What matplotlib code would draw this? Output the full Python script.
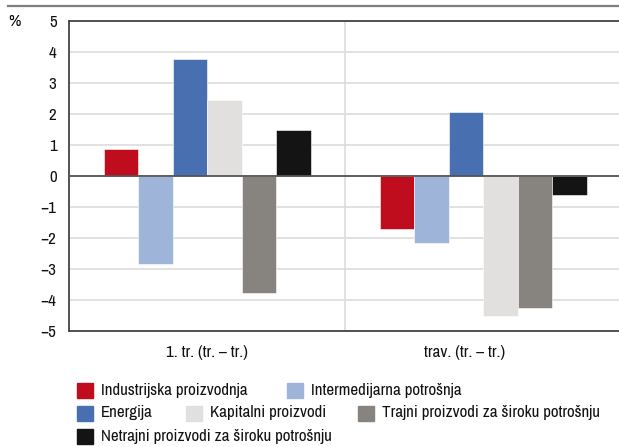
import matplotlib
matplotlib.use('Agg')
import matplotlib.pyplot as plt
from matplotlib.patches import Rectangle
from matplotlib.lines import Line2D
import numpy as np

# podaci
groups = ['1. tr. (tr. – tr.)', 'trav. (tr. – tr.)']
series = ['Industrijska proizvodnja', 'Intermedijarna potrošnja', 'Energija',
          'Kapitalni proizvodi', 'Trajni proizvodi za široku potrošnju',
          'Netrajni proizvodi za široku potrošnju']
q1_values = [0.88, -2.84, 3.77, 2.44, -3.78, 1.49]
apr_values = [-1.72, -2.17, 2.07, -4.5, -4.25, -0.61]
colors = ['#C00D1E', '#9FB4D9', '#4870B0', '#E1E0DF', '#878480', '#141414']
yticks = [-5, -4, -3, -2, -1, 0, 1, 2, 3, 4, 5]

plt.rcParams['font.family'] = ['Archivo Narrow', 'Liberation Sans', 'DejaVu Sans']
fs = 12.2

W, H = 619, 447
fig = plt.figure(figsize=(W / 100, H / 100), dpi=100)
ax = fig.add_axes([69 / W, (H - 331) / H, 552 / W, 310 / H])

values = np.array([q1_values, apr_values])
width = 0.125
x = np.arange(len(groups))
for i, name in enumerate(series):
    ax.bar(x + (i - 2.5) * width, values[:, i], width, color=colors[i],
           edgecolor='white', linewidth=0.4, label=name, zorder=3)

ax.set_xlim(-0.5, 1.5)
ax.set_ylim(-5, 5)
ax.set_yticks(yticks)
ax.yaxis.grid(True, color='#DCDCDC', linewidth=1.2, zorder=0)
ax.axhline(0, color='#555555', linewidth=1.3, zorder=4)
ax.axvline(0.5, color='#DCDCDC', linewidth=1.2, zorder=0)
# drugi natpis je malo pomaknut ulijevo kao u originalu
ax.set_xticks([0, 0.935])
ax.set_xticklabels(groups)
ax.tick_params(axis='both', length=0, labelsize=fs, colors='#111111')
ax.tick_params(axis='y', pad=9)
ax.tick_params(axis='x', pad=10)

for s in ['left', 'top', 'bottom']:
    ax.spines[s].set_color('#444444')
    ax.spines[s].set_linewidth(1.3)
ax.spines['right'].set_visible(False)

fig.text(8 / W, 1 - 21 / H, '%', fontsize=fs, va='center', ha='left')
fig.add_artist(Line2D([8 / W, 1], [1 - 6 / H, 1 - 6 / H], color='#7F7F7F',
                      linewidth=1.6, transform=fig.transFigure))

# legenda
legend_pos = [(390, 77), (390, 287), (413, 77), (413, 185.5), (413, 358), (436, 77)]
for i, name in enumerate(series):
    yc, px = legend_pos[i]
    fig.add_artist(Rectangle((px / W, 1 - (yc + 7.5) / H), 16 / W, 15 / H,
                             color=colors[i], transform=fig.transFigure))
    fig.text((px + 24) / W, 1 - yc / H, name, fontsize=fs, va='center',
             ha='left', color='#111111')

plt.savefig('out.png', dpi=100)
